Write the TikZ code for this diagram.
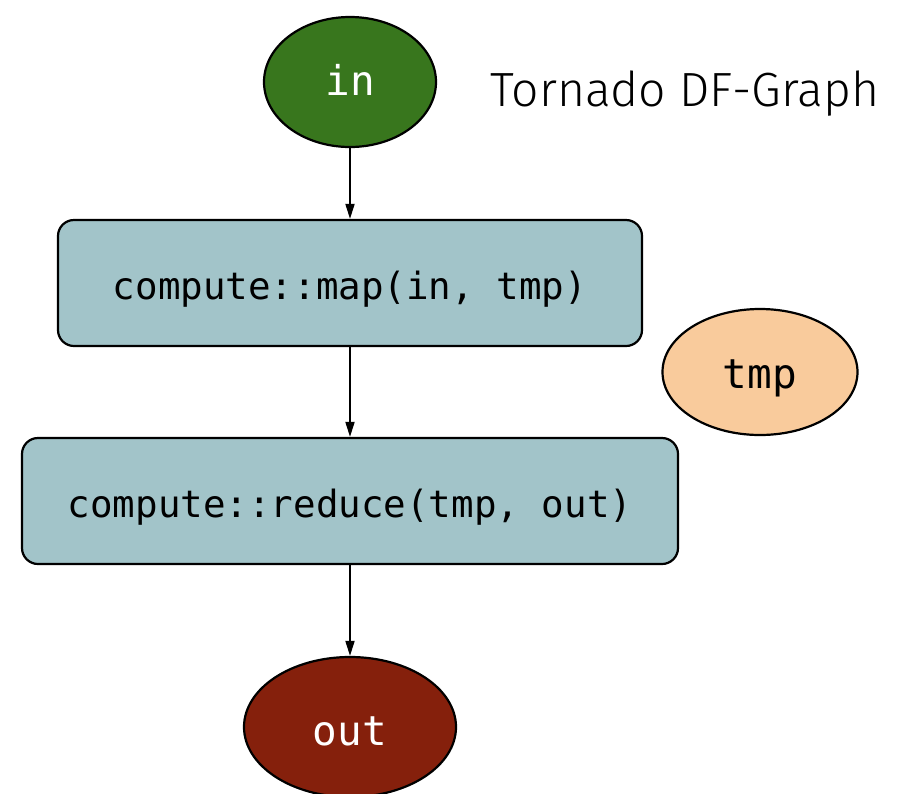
\documentclass[tikz,border=0pt]{standalone}
\usepackage{fontspec}
\setmonofont{DejaVu Sans Mono}
\newfontfamily\titlefont{Fira Sans Light}
\usetikzlibrary{arrows.meta,shapes.geometric}
\definecolor{ingreen}{HTML}{38761D}
\definecolor{outred}{HTML}{85200C}
\definecolor{tmporange}{HTML}{F9CB9C}
\definecolor{taskblue}{HTML}{A2C4C9}
% shift a label down without changing the box the node sees
\newcommand{\lowered}[2][6pt]{\raisebox{-#1}[\height][\depth]{#2}}
\begin{document}
\begin{tikzpicture}[x=1pt,y=-1pt,
  databuf/.style={ellipse,draw=black,line width=2.2pt,inner sep=0pt},
  taskbox/.style={rectangle,rounded corners=16pt,draw=black,line width=2.2pt,
    fill=taskblue,inner sep=0pt,font=\ttfamily\fontsize{37.5}{40}\selectfont},
  flow/.style={-{Triangle[length=15pt,width=9pt]},line width=1.8pt}]
\useasboundingbox (0,0) rectangle (897,793);
\node[databuf,fill=ingreen,minimum width=172pt,minimum height=130pt,
  text=white,font=\ttfamily\fontsize{41}{44}\selectfont] (in) at (350,82) {\lowered[-2pt]{in}};
\node[anchor=base west,font=\titlefont\fontsize{48}{52}\selectfont] (title) at (487,106) {Tornado DF-Graph};
\node[taskbox,minimum width=584pt,minimum height=126pt] (map) at (350,283) {\lowered{compute::map(in, tmp)}};
\node[databuf,fill=tmporange,minimum width=195pt,minimum height=126pt,
  font=\ttfamily\fontsize{41}{44}\selectfont] (tmp) at (760,372) {\lowered{tmp}};
\node[taskbox,minimum width=656pt,minimum height=126pt] (reduce) at (350,501) {\lowered{compute::reduce(tmp, out)}};
\node[databuf,fill=outred,minimum width=212pt,minimum height=140pt,
  text=white,font=\ttfamily\fontsize{41}{44}\selectfont] (out) at (350,727) {\lowered[4pt]{out}};
\draw[flow] (in) -- (map);
\draw[flow] (map) -- (reduce);
\draw[flow] (reduce) -- (out);
\end{tikzpicture}
\end{document}
